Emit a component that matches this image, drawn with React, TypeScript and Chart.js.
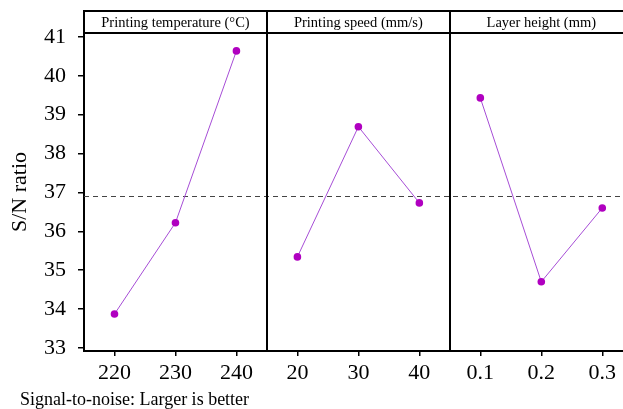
import React, { useEffect, useRef } from "react";
import { Chart, registerables } from "chart.js";

Chart.register(...registerables);

const panelTitles = ["Printing temperature (°C)", "Printing speed (mm/s)", "Layer height (mm)"];
const tempLevels = ["220", "230", "240"];
const speedLevels = ["20", "30", "40"];
const layerLevels = ["0.1", "0.2", "0.3"];
const tempSN = [33.87, 36.22, 40.64];
const speedSN = [35.34, 38.69, 36.73];
const layerSN = [39.43, 34.7, 36.6];
const meanSN = 36.91;
const yTickValues = [33, 34, 35, 36, 37, 38, 39, 40, 41];
const yTitle = "S/N ratio";
const footnote = "Signal-to-noise: Larger is better";

const SERIF = "'Liberation Serif', 'Times New Roman', serif";
const LINE_COLOR = "#a64dd6";
const POINT_COLOR = "#b000c0";

const levelGroups = [tempLevels, speedLevels, layerLevels];
const valueGroups = [tempSN, speedSN, layerSN];
const allLabels = levelGroups.flat();
const tickPositions: number[] = [];
levelGroups.forEach((g, p) => g.forEach((_, i) => tickPositions.push(p * 3 + i + 0.5)));

const overlay = {
  id: "overlay",
  beforeDatasetsDraw(chart: any) {
    const { ctx, chartArea, scales } = chart;
    const y = Math.round(scales.y.getPixelForValue(meanSN)) + 0.5;
    ctx.save();
    ctx.strokeStyle = "#444444";
    ctx.lineWidth = 1;
    ctx.setLineDash([5, 4]);
    ctx.beginPath();
    ctx.moveTo(chartArea.left, y);
    ctx.lineTo(chartArea.right, y);
    ctx.stroke();
    ctx.restore();
  },
  afterDraw(chart: any) {
    const { ctx, chartArea, scales } = chart;
    const top = chartArea.top;
    const frameTop = top - 22;
    ctx.save();
    ctx.strokeStyle = "#000";
    ctx.lineWidth = 2;
    ctx.beginPath();
    ctx.moveTo(chartArea.left - 1, frameTop);
    ctx.lineTo(chartArea.right, frameTop);
    ctx.moveTo(chartArea.left, top);
    ctx.lineTo(chartArea.right, top);
    ctx.moveTo(chartArea.left, frameTop);
    ctx.lineTo(chartArea.left, top);
    [3, 6].forEach((v) => {
      const x = Math.round(scales.x.getPixelForValue(v));
      ctx.moveTo(x, frameTop);
      ctx.lineTo(x, chartArea.bottom);
    });
    ctx.stroke();
    ctx.fillStyle = "#000";
    ctx.font = `14.5px ${SERIF}`;
    ctx.textAlign = "center";
    ctx.textBaseline = "middle";
    panelTitles.forEach((t, p) => {
      const x0 = scales.x.getPixelForValue(p * 3);
      const x1 = scales.x.getPixelForValue(p * 3 + 3);
      ctx.fillText(t, (x0 + x1) / 2, (frameTop + top) / 2 + 1);
    });
    ctx.font = `18px ${SERIF}`;
    ctx.textAlign = "left";
    ctx.fillText(footnote, 20, 400);
    ctx.restore();
  },
};

export default function App() {
  const ref = useRef<HTMLCanvasElement | null>(null);
  useEffect(() => {
    if (!ref.current) return;
    const datasets = valueGroups.map((vals, p) => ({
      data: vals.map((v, i) => ({ x: p * 3 + i + 0.5, y: v })),
      borderColor: LINE_COLOR,
      borderWidth: 1,
      pointBackgroundColor: POINT_COLOR,
      pointBorderColor: POINT_COLOR,
      pointRadius: 3.8,
      pointBorderWidth: 0,
      tension: 0,
    }));
    const chart = new Chart(ref.current, {
      type: "line",
      data: { datasets },
      options: {
        animation: false,
        responsive: false,
        events: [],
        layout: { autoPadding: false, padding: { top: 33, right: 0, bottom: 0, left: 0 } },
        plugins: { legend: { display: false }, tooltip: { enabled: false } },
        scales: {
          x: {
            type: "linear",
            min: 0,
            max: 8.84,
            afterBuildTicks: (s: any) => {
              s.ticks = tickPositions.map((v) => ({ value: v }));
            },
            afterFit: (s: any) => {
              s.height = 58;
              s.paddingLeft = 0;
              s.paddingRight = 0;
            },
            ticks: {
              autoSkip: false,
              maxRotation: 0,
              padding: 4,
              color: "#000",
              font: { family: SERIF, size: 22 },
              callback: (_v: any, i: number) => allLabels[i],
            },
            grid: { drawOnChartArea: false, drawTicks: true, tickLength: 5, color: "#000", lineWidth: 1.5 },
            border: { display: true, color: "#000", width: 2 },
          },
          y: {
            type: "linear",
            min: 32.92,
            max: 41.1,
            afterBuildTicks: (s: any) => {
              s.ticks = yTickValues.map((v) => ({ value: v }));
            },
            afterFit: (s: any) => {
              s.width = 84;
              s.paddingTop = 0;
              s.paddingBottom = 0;
            },
            ticks: {
              padding: 12,
              color: "#000",
              font: { family: SERIF, size: 22 },
            },
            title: {
              display: true,
              text: yTitle,
              color: "#000",
              font: { family: SERIF, size: 22 },
              padding: { top: 7, bottom: 0 },
            },
            grid: { drawOnChartArea: false, drawTicks: true, tickLength: 6, color: "#000", lineWidth: 1.5 },
            border: { display: true, color: "#000", width: 2 },
          },
        },
      },
      plugins: [overlay],
    });
    return () => chart.destroy();
  }, []);
  return (
    <div style={{ position: "absolute", left: 0, top: 0, width: 623, height: 409, background: "#fff" }}>
      <canvas ref={ref} width={623} height={409} style={{ width: 623, height: 409, display: "block" }} />
    </div>
  );
}
